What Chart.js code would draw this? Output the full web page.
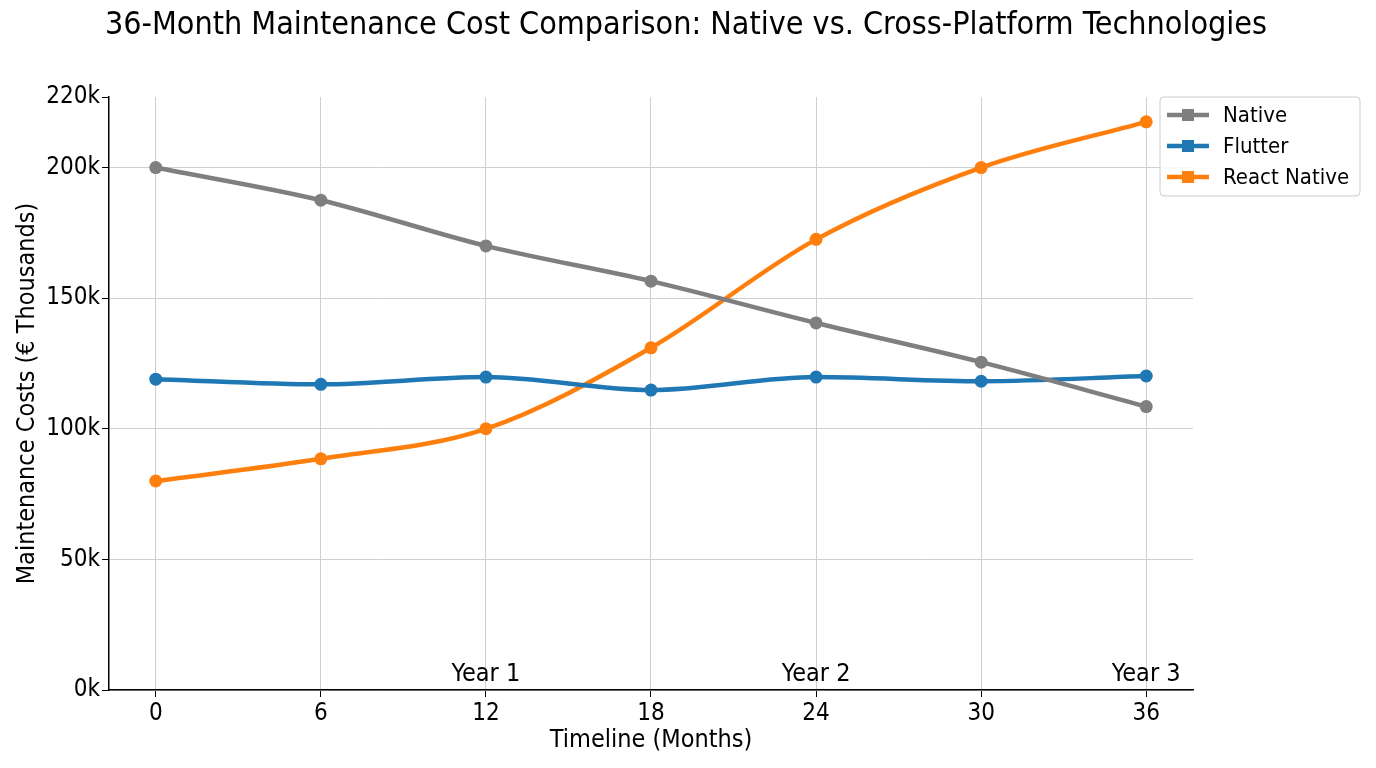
<!DOCTYPE html>
<html>
<head>
<meta charset="utf-8">
<script src="https://cdn.jsdelivr.net/npm/chart.js@4"></script>
<style>
  html, body { margin: 0; padding: 0; background: #ffffff; }
  #wrap { width: 1376px; height: 768px; }
</style>
</head>
<body>
<div id="wrap"><canvas id="costChart" width="1376" height="768"></canvas></div>
<script>
// data (values in € thousands)
const months = [0, 6, 12, 18, 24, 30, 36];
const nativeCost = [200, 187.5, 170, 156.5, 140.5, 125.5, 108.5];
const flutterCost = [119, 117, 119.8, 114.8, 119.8, 118.2, 120.2];
const reactNativeCost = [80, 88.5, 100, 131, 172.5, 200, 217.5];

const yTickValues = [0, 50, 100, 150, 200, 227];
const yTickLabels = ["0k", "50k", "100k", "150k", "200k", "220k"];
const xTickValues = [0, 6, 12, 18, 24, 30, 36];
const yearMarks = [12, 24, 36];
const yearLabels = ["Year 1", "Year 2", "Year 3"];

const seriesNames = ["Native", "Flutter", "React Native"];
const seriesColors = ["#7f7f7f", "#1f77b4", "#ff7f0e"];

const FONT = "'DejaVu Sans Condensed', 'DejaVu Sans', sans-serif";

function toPoints(values) {
    return months.map((m, i) => ({ x: m, y: values[i] }));
}

const extrasPlugin = {
    id: "extras",
    afterDraw(chart) {
        const ctx = chart.ctx;
        const xs = chart.scales.x;
        const ys = chart.scales.y;
        ctx.save();

        // title
        ctx.fillStyle = "#000000";
        ctx.font = "32px " + FONT;
        ctx.textAlign = "center";
        ctx.textBaseline = "middle";
        ctx.fillText("36-Month Maintenance Cost Comparison: Native vs. Cross-Platform Technologies", 686, 26);

        // year annotations
        ctx.font = "25px " + FONT;
        ctx.textBaseline = "bottom";
        yearMarks.forEach((m, i) => {
            ctx.fillText(yearLabels[i], xs.getPixelForValue(m), ys.getPixelForValue(0) - 3);
        });

        // legend
        const lx = 1160, ly = 97, lw = 200, lh = 99;
        ctx.fillStyle = "rgba(255,255,255,0.85)";
        ctx.strokeStyle = "#cccccc";
        ctx.lineWidth = 1;
        ctx.beginPath();
        ctx.roundRect(lx, ly, lw, lh, 4);
        ctx.fill();
        ctx.stroke();
        ctx.font = "22px " + FONT;
        ctx.textAlign = "left";
        ctx.textBaseline = "middle";
        seriesNames.forEach((name, i) => {
            const y = ly + 18 + i * 31;
            ctx.strokeStyle = seriesColors[i];
            ctx.lineWidth = 4.5;
            ctx.beginPath();
            ctx.moveTo(1167, y);
            ctx.lineTo(1209, y);
            ctx.stroke();
            ctx.fillStyle = seriesColors[i];
            ctx.fillRect(1182, y - 6, 12, 12);
            ctx.fillStyle = "#000000";
            ctx.fillText(name, 1223, y + 1);
        });

        ctx.restore();
    }
};

new Chart(document.getElementById("costChart"), {
    type: "line",
    data: {
        datasets: [nativeCost, flutterCost, reactNativeCost].map((values, i) => ({
            label: seriesNames[i],
            data: toPoints(values),
            borderColor: seriesColors[i],
            backgroundColor: seriesColors[i],
            borderWidth: 4.5,
            pointRadius: 6.5,
            pointBorderWidth: 0,
            pointBackgroundColor: seriesColors[i],
            cubicInterpolationMode: "monotone",
            fill: false
        }))
    },
    options: {
        responsive: false,
        animation: false,
        devicePixelRatio: 1,
        layout: {
            padding: { left: 0, right: 183, top: 97, bottom: 13 }
        },
        plugins: {
            legend: { display: false },
            title: { display: false },
            tooltip: { enabled: false }
        },
        scales: {
            x: {
                type: "linear",
                min: -1.7,
                max: 37.7,
                afterBuildTicks(scale) {
                    scale.ticks = xTickValues.map(v => ({ value: v }));
                },
                afterFit(scale) {
                    scale.height = 65;
                },
                border: { color: "#000000", width: 1.5 },
                grid: {
                    color: "#cfcfcf",
                    lineWidth: 1,
                    tickColor: "#000000",
                    tickLength: 7
                },
                ticks: {
                    color: "#000000",
                    font: { family: FONT, size: 24 },
                    padding: 2,
                    maxRotation: 0,
                    callback: v => String(v)
                },
                title: {
                    display: true,
                    text: "Timeline (Months)",
                    color: "#000000",
                    font: { family: FONT, size: 25 },
                    padding: { top: 0, bottom: 0 }
                }
            },
            y: {
                type: "linear",
                min: 0,
                max: 227,
                afterBuildTicks(scale) {
                    scale.ticks = yTickValues.map(v => ({ value: v }));
                },
                afterFit(scale) {
                    scale.width = 109;
                },
                border: { color: "#000000", width: 1.5 },
                grid: {
                    color: ctx => (ctx.tick && ctx.tick.value === 227 ? "rgba(0,0,0,0)" : "#cfcfcf"),
                    lineWidth: 1,
                    tickColor: "#000000",
                    tickLength: 7
                },
                ticks: {
                    color: "#000000",
                    font: { family: FONT, size: 24 },
                    padding: 2,
                    callback: (v) => yTickLabels[yTickValues.indexOf(v)]
                },
                title: {
                    display: true,
                    text: "Maintenance Costs (€ Thousands)",
                    color: "#000000",
                    font: { family: FONT, size: 25 },
                    padding: { top: 12, bottom: 4 }
                }
            }
        }
    },
    plugins: [extrasPlugin]
});
</script>
</body>
</html>
